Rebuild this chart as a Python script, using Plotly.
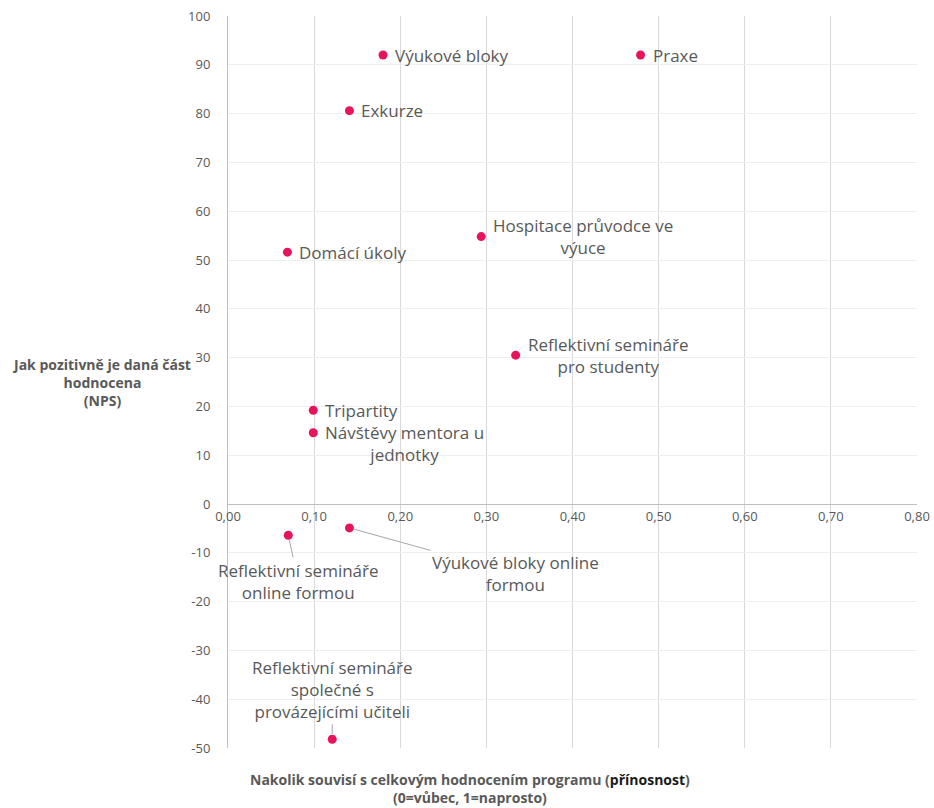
import plotly.graph_objects as go

# ---- data ----
names = [
    "Výukové bloky", "Praxe", "Exkurze", "Hospitace průvodce ve výuce",
    "Domácí úkoly", "Reflektivní semináře pro studenty", "Tripartity",
    "Návštěvy mentora u jednotky", "Reflektivní semináře online formou",
    "Výukové bloky online formou",
    "Reflektivní semináře společné s provázejícími učiteli",
]
x_vals = [0.180, 0.479, 0.141, 0.294, 0.069, 0.334, 0.099, 0.099, 0.070, 0.141, 0.121]
y_vals = [92.0, 92.0, 80.6, 54.8, 51.6, 30.5, 19.2, 14.6, -6.4, -4.9, -48.2]

x_tickvals = [0.0, 0.1, 0.2, 0.3, 0.4, 0.5, 0.6, 0.7, 0.8]
x_ticktext = ["0,00", "0,10", "0,20", "0,30", "0,40", "0,50", "0,60", "0,70", "0,80"]
y_tickvals = [-50, -40, -30, -20, -10, 0, 10, 20, 30, 40, 50, 60, 70, 80, 90, 100]
y_ticktext = ["-50", "-40", "-30", "-20", "-10", "0", "10", "20", "30", "40",
              "50", "60", "70", "80", "90", "100"]

# ---- label layout (display wrapping and placement) ----
wrapped = {
    "Hospitace průvodce ve výuce": "Hospitace průvodce ve<br>výuce",
    "Reflektivní semináře pro studenty": "Reflektivní semináře<br>pro studenty",
    "Návštěvy mentora u jednotky": "Návštěvy mentora u<br>jednotky",
    "Reflektivní semináře online formou": "Reflektivní semináře<br>online formou",
    "Výukové bloky online formou": "Výukové bloky online<br>formou",
    "Reflektivní semináře společné s provázejícími učiteli":
        "Reflektivní semináře<br>společné s<br>provázejícími učiteli",
}
# name -> (mode, params)
placement = {
    "Návštěvy mentora u jednotky": ("right", {"yshift": -11}),
    "Reflektivní semináře online formou": ("arrow", {"ax": 10, "ay": 46}),
    "Výukové bloky online formou": ("arrow", {"ax": 166, "ay": 46}),
    "Reflektivní semináře společné s provázejícími učiteli": ("arrow", {"ax": 0, "ay": -50}),
}

TEXT = "#595959"
FONT = "Open Sans, DejaVu Sans, sans-serif"
LABEL_SIZE = 17

fig = go.Figure()
fig.add_trace(go.Scatter(
    x=x_vals, y=y_vals, mode="markers",
    marker=dict(color="#E8145A", size=9),
    hoverinfo="text", text=names, showlegend=False,
))

annotations = []
for n, x, y in zip(names, x_vals, y_vals):
    txt = wrapped.get(n, n)
    mode, p = placement.get(n, ("right", {}))
    if mode == "right":
        annotations.append(dict(
            x=x, y=y, xref="x", yref="y", text=txt, showarrow=False,
            xanchor="left", yanchor="middle", align="center",
            xshift=10, yshift=p.get("yshift", 0),
            font=dict(family=FONT, size=LABEL_SIZE, color=TEXT),
        ))
    else:
        annotations.append(dict(
            x=x, y=y, xref="x", yref="y", text=txt, showarrow=True,
            ax=p["ax"], ay=p["ay"], arrowhead=0, arrowwidth=1,
            arrowcolor="#a6a6a6", standoff=5, align="center",
            font=dict(family=FONT, size=LABEL_SIZE, color=TEXT),
        ))

# axis titles
annotations.append(dict(
    xref="paper", yref="paper", x=-0.183, y=0.499, xanchor="center", yanchor="middle",
    showarrow=False, align="center",
    text="<b>Jak pozitivně je daná část<br>hodnocena<br>(NPS)</b>",
    font=dict(family=FONT, size=14, color=TEXT),
))
annotations.append(dict(
    xref="paper", yref="paper", x=0.351, y=-0.027, xanchor="center", yanchor="top",
    showarrow=False, align="center",
    text="<b>Nakolik souvisí s celkovým hodnocením programu "
         "(<span style='color:#1a1a1a'>přínosnost</span>)<br>(0=vůbec, 1=naprosto)</b>",
    font=dict(family=FONT, size=14, color=TEXT),
))

fig.update_layout(
    width=934, height=808,
    margin=dict(l=228, r=17, t=16, b=60),
    paper_bgcolor="white", plot_bgcolor="white",
    font=dict(family=FONT, color=TEXT),
    annotations=annotations,
    xaxis=dict(
        range=[0, 0.8], tickvals=x_tickvals, ticktext=x_ticktext,
        showgrid=True, gridcolor="#d9d9d9", gridwidth=1,
        zeroline=False, showline=True, linecolor="#bfbfbf", linewidth=1,
        anchor="free", position=1/3, ticks="", automargin=False,
        ticklabeloverflow="allow",
        tickfont=dict(family=FONT, size=13, color=TEXT),
    ),
    yaxis=dict(
        range=[-50, 100], tickvals=y_tickvals, ticktext=y_ticktext,
        showgrid=True, gridcolor="#eeeeee", gridwidth=1,
        zeroline=False, showline=True, linecolor="#bfbfbf", linewidth=1,
        ticks="", ticklabelstandoff=14, automargin=False,
        ticklabeloverflow="allow",
        tickfont=dict(family=FONT, size=13, color=TEXT),
    ),
)

fig.write_html(
    "out.html",
    config={"displayModeBar": False},
    post_script="document.body.style.margin='0';document.body.style.overflow='hidden';",
)
